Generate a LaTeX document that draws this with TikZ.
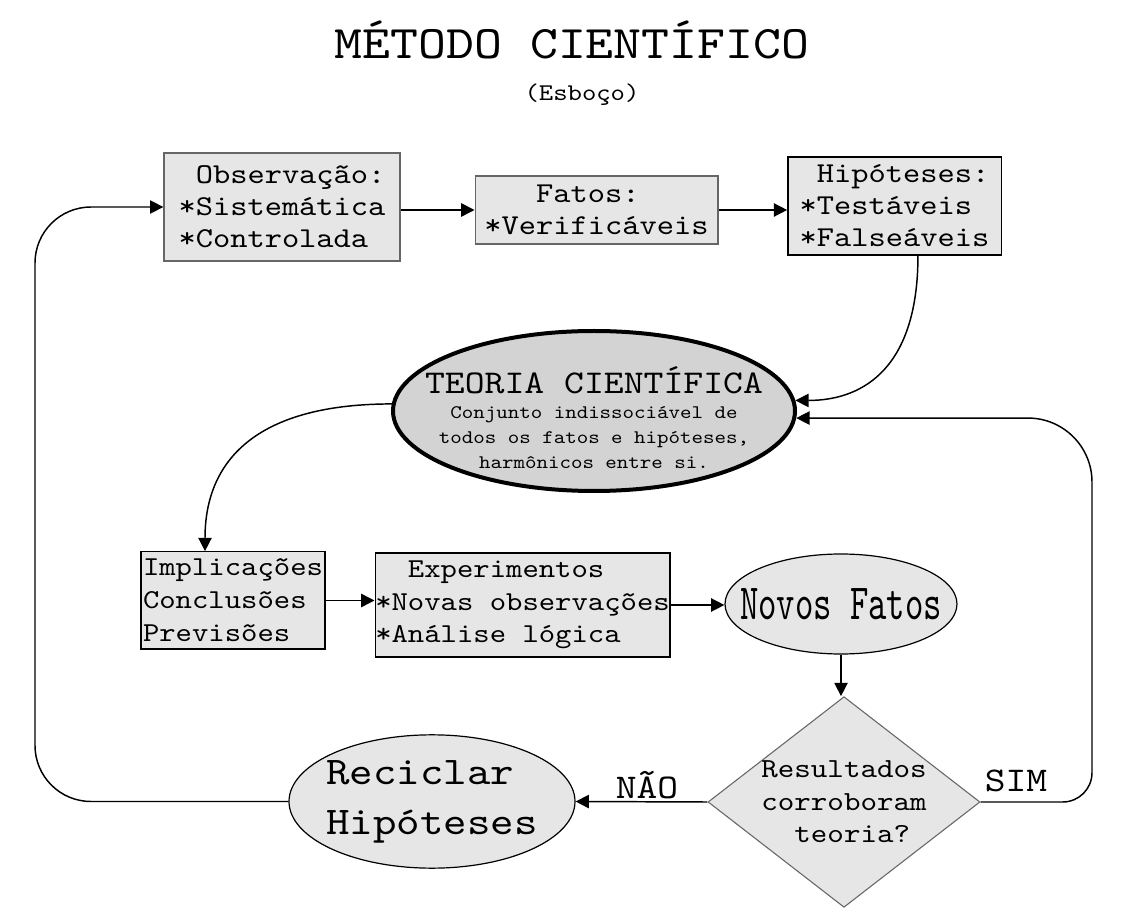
\documentclass[tikz,border=0pt]{standalone}
\usepackage{fontspec}
\setmainfont[FakeStretch=1.14]{lmmono10-regular.otf}
\newfontfamily\condfont[FakeStretch=0.69]{lmmono10-regular.otf}
\usetikzlibrary{shapes.geometric,arrows.meta}
\definecolor{boxgray}{HTML}{E6E6E6}
\definecolor{teogray}{HTML}{D3D3D3}
\definecolor{edgegray}{HTML}{666666}
\begin{document}
\begin{tikzpicture}[x=0.75pt,y=-0.75pt,
  arr/.style={draw=black, line width=1.1pt, -{Triangle[length=10pt,width=10pt]}},
  box/.style={rectangle, draw=black, fill=boxgray, line width=1pt, inner xsep=0pt, inner ysep=0pt, align=left, font=\fontsize{21.6}{24}\selectfont},
  lbl/.style={font=\fontsize{26}{30}\selectfont, inner sep=0pt}]
\useasboundingbox[fill=white] (0,0) rectangle (1125,919);

\node (title) at (572,40) {\fontsize{35}{40}\selectfont MÉTODO CIENTÍFICO};
\node (esboco) at (582,95) {\fontsize{18}{20}\selectfont (Esboço)};

\node (obs) [box, draw=edgegray, minimum width=177pt, minimum height=81pt] at (282,207)
  {\hphantom{X}Observação:\\*Sistemática\\*Controlada};
\node (fatos) [box, draw=edgegray, minimum width=182pt, minimum height=51pt] at (596.5,210)
  {\hphantom{XXX}Fatos:\\*Verificáveis};
\node (hip) [box, minimum width=160pt, minimum height=73.5pt] at (894.5,206)
  {\hphantom{X}Hipóteses:\\*Testáveis\\*Falseáveis};

\node (teoria) [ellipse, draw=black, line width=3pt, fill=teogray,
  minimum width=301.5pt, minimum height=120pt, inner xsep=-60pt, inner ysep=-20pt,
  align=center, font=\fontsize{14.4}{18.75}\selectfont] at (594,411)
  {\rule{0pt}{30pt}{\fontsize{24.9}{28}\selectfont TEORIA CIENTÍFICA}\\Conjunto indissociável de\\todos os fatos e hipóteses,\\harmônicos entre si.};

\node (impl) [box, font=\fontsize{20.5}{24.7}\selectfont, minimum width=138pt, minimum height=73pt] at (233,600.5)
  {Implicações\\Conclusões\\Previsões};
\node (exp) [box, font=\fontsize{20.5}{24.4}\selectfont, minimum width=221pt, minimum height=78pt] at (522.5,605)
  {\hphantom{XX}Experimentos\\*Novas observações\\*Análise lógica};

\node (novos) [ellipse, draw=black, line width=0.9pt, fill=boxgray,
  minimum width=174pt, minimum height=75pt, inner xsep=-40pt, inner ysep=-5pt,
  font=\condfont\fontsize{38}{40}\selectfont] at (841,604) {Novos Fatos};

\node (dia) [diamond, draw=edgegray, line width=0.8pt, fill=boxgray,
  minimum width=204pt, minimum height=158pt, inner xsep=-30pt, inner ysep=-20pt,
  align=left, font=\fontsize{20.7}{24.4}\selectfont] at (844,802)
  {Resultados\\corroboram\\\hphantom{XX}teoria?};

\node (rec) [ellipse, draw=black, line width=0.9pt, fill=boxgray,
  minimum width=214.5pt, minimum height=100pt, inner xsep=-40pt, inner ysep=-10pt,
  align=left, font=\fontsize{29.4}{37.5}\selectfont] at (432,801.5)
  {Reciclar\\Hipóteses};

\node (nao) [lbl] at (647,785) {NÃO};
\node (sim) [lbl] at (1016,781) {SIM};

\coordinate (lx) at (35,500);
\coordinate (rx) at (1092,600);

% connectors
\draw[arr] (obs.east |- fatos.west) -- (fatos.west);
\draw[arr] (fatos.east) -- (fatos.east -| hip.west);
\draw[arr] ([xshift=17.6pt]hip.south) .. controls +(0,110) and +(70,0) .. (teoria.3);
\draw[arr] (teoria.178.6) .. controls +(-130,0) and +(0,-95) .. ([xshift=-21pt]impl.north);
\draw[arr] (impl.east) -- (impl.east -| exp.west);
\draw[arr] (exp.east) -- (exp.east -| novos.west);
\draw[arr] (novos.south) -- (novos.south |- dia.north);
\draw[arr] (dia.west) -- (rec.east);
\draw[arr] (dia.east) [rounded corners=22pt] -- (dia.east -| rx) [rounded corners=48pt] -- (rx |- teoria.-2.5) [sharp corners] -- (teoria.-2.5);
\draw[arr, rounded corners=42pt] (rec.west) -- (rec.west -| lx) -- (lx |- obs.west) -- (obs.west);
\end{tikzpicture}
\end{document}
